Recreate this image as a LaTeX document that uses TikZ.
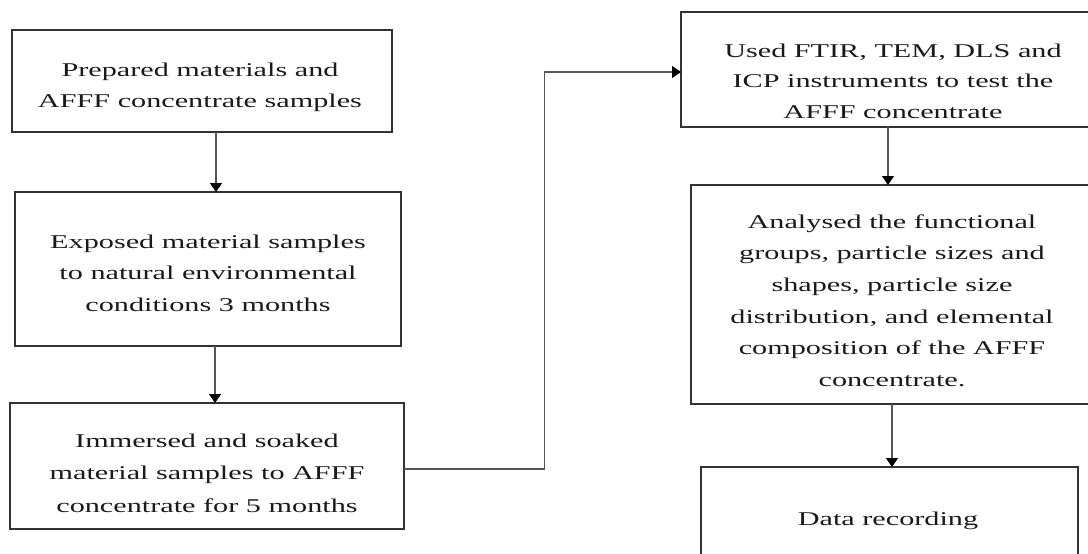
\documentclass[tikz,border=0pt]{standalone}
\usepackage{fontspec}
\setmainfont{Liberation Serif}[FakeStretch=1.55]
\usetikzlibrary{arrows.meta}
\definecolor{boxc}{HTML}{333333}
\definecolor{linec}{HTML}{555555}
\definecolor{txtc}{HTML}{1A1A1A}
\tikzset{
  box/.style={draw=boxc, line width=1.8pt, inner sep=0pt, outer sep=0pt},
  txt/.style={anchor=base, inner sep=0pt, text=txtc, font=\fontsize{19.5pt}{31.7pt}\selectfont},
  conn/.style={draw=linec, line width=1.2pt, -{Triangle[width=12pt,length=9pt,fill=black,color=black]}},
  plainconn/.style={draw=linec, line width=1.2pt}
}
\newcommand{\mlines}[1]{\begin{tabular}[t]{@{}c@{}}#1\end{tabular}}
\begin{document}
\begin{tikzpicture}[x=1pt,y=-1pt]
\useasboundingbox (0,0) rectangle (1088,554);
\clip (0,0) rectangle (1088,554);
\fill[white] (0,0) rectangle (1088,554);
% boxes
\node[box, minimum width=380pt, minimum height=102pt] (b1) at (202,81) {};
\node[box, minimum width=386pt, minimum height=154pt] (b2) at (208,269) {};
\node[box, minimum width=394pt, minimum height=126pt] (b3) at (207,466) {};
\node[box, minimum width=424pt, minimum height=115pt] (b4) at (893,69.5) {};
\node[box, minimum width=402pt, minimum height=219pt] (b5) at (892,294.5) {};
\node[box, minimum width=377pt, minimum height=103pt] (b6) at (889.5,518.5) {};
% texts
\node[txt] (t1) at (200,76) {\mlines{Prepared materials and\\AFFF concentrate samples}};
\node[txt] (t2) at (208,248) {\mlines{Exposed material samples\\to natural environmental\\conditions 3 months}};
\node[txt] (t3) at (207,447) {\mlines{Immersed and soaked\\[0.8pt]material samples to AFFF\\[0.8pt]concentrate for 5 months}};
\node[txt] (t4) at (893,57) {\mlines{Used FTIR, TEM, DLS and\\[-1.2pt]ICP instruments to test the\\[-1.2pt]AFFF concentrate}};
\node[txt] (t5) at (892,228) {\mlines{Analysed the functional\\groups, particle sizes and\\shapes, particle size\\distribution, and elemental\\composition of the AFFF\\concentrate.}};
\node[txt] (t6) at (888,525) {Data recording};
% connectors
\draw[conn] ([xshift=14pt]b1.south) -- ([xshift=14pt]b1.south |- b2.north);
\draw[conn] ([xshift=7pt]b2.south) -- ([xshift=7pt]b2.south |- b3.north);
\coordinate (c1) at (544.6,469);
\coordinate (c2) at (544.6,72);
\draw[conn] (b3.east |- c1) -- (c1) -- (c2) -- (b4.west |- c2);
\draw[conn] ([xshift=-5pt]b4.south) -- ([xshift=-5pt]b4.south |- b5.north);
\draw[conn] (b5.south) -- (b5.south |- b6.north);
\end{tikzpicture}
\end{document}
